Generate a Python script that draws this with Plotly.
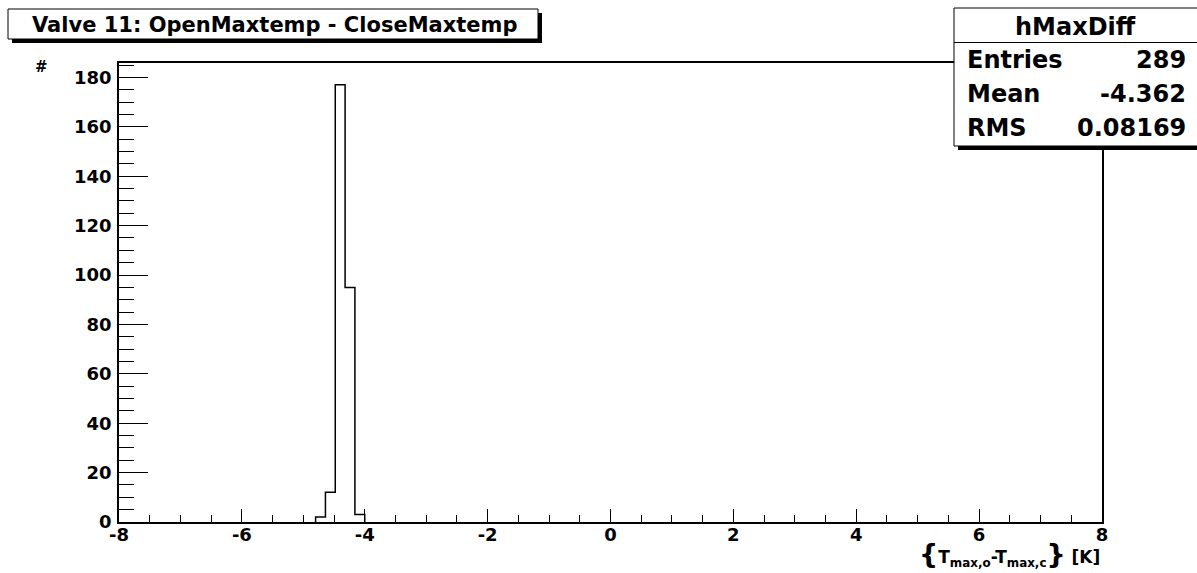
import plotly.graph_objects as go

# ---- data ----
bin_width = 0.16
bin_low = [-4.80, -4.64, -4.48, -4.32, -4.16]
counts = [2, 12, 177, 95, 3]
x_ticks = [-8, -6, -4, -2, 0, 2, 4, 6, 8]
y_ticks = [0, 20, 40, 60, 80, 100, 120, 140, 160, 180]
title_text = "Valve 11: OpenMaxtemp - CloseMaxtemp"
stats_name = "hMaxDiff"
stats_labels = ["Entries", "Mean", "RMS"]
stats_values = ["289", "-4.362", "0.08169"]

# ---- step outline of the histogram (ROOT-style, outline only) ----
hi_last = bin_low[-1] + bin_width
xs = [bin_low[0]] + bin_low + [hi_last]
ys = [0] + counts + [0]

W, H = 1197, 573
L, R, T, B = 119, 1102, 63, 522
FONT = "DejaVu Sans"


def px(x):
    return (x - L) / (R - L)


def py(y):
    return (B - y) / (B - T)


fig = go.Figure()
fig.add_trace(go.Scatter(x=xs, y=ys, mode="lines",
                         line=dict(color="black", width=1.5, shape="hv"),
                         hoverinfo="skip", showlegend=False))

fig.update_layout(
    width=W, height=H,
    margin=dict(l=L, r=W - R, t=T, b=H - B),
    paper_bgcolor="white", plot_bgcolor="white",
    font=dict(family=FONT, color="black"),
    xaxis=dict(range=[-8, 8], tickmode="array", tickvals=x_ticks,
               ticktext=[str(v) for v in x_ticks],
               ticks="inside", ticklen=13, tickwidth=1, tickcolor="black",
               minor=dict(dtick=0.5, tick0=-8, ticks="inside", ticklen=7,
                          tickwidth=1, tickcolor="black", showgrid=False),
               showline=True, linecolor="black", linewidth=1.5, mirror=True,
               showgrid=False, zeroline=False, ticklabelstandoff=-4,
               tickfont=dict(family=FONT, size=18, weight="bold", color="black")),
    yaxis=dict(range=[0, max(counts) * 1.05], tickmode="array", tickvals=y_ticks,
               ticktext=[str(v) for v in y_ticks],
               ticks="inside", ticklen=29, tickwidth=1, tickcolor="black",
               minor=dict(dtick=5, tick0=0, ticks="inside", ticklen=15,
                          tickwidth=1, tickcolor="black", showgrid=False),
               showline=True, linecolor="black", linewidth=1.5, mirror=True,
               showgrid=False, zeroline=False, ticklabelstandoff=2,
               tickfont=dict(family=FONT, size=18, weight="bold", color="black")),
)

shapes = []
# title box with shadow
shapes.append(dict(type="rect", xref="paper", yref="paper",
                   x0=px(12), x1=px(542), y0=py(13), y1=py(43),
                   fillcolor="black", line=dict(width=0), layer="above"))
shapes.append(dict(type="rect", xref="paper", yref="paper",
                   x0=px(8), x1=px(538), y0=py(9), y1=py(39),
                   fillcolor="white", line=dict(color="black", width=1), layer="above"))
# stats box with shadow
shapes.append(dict(type="rect", xref="paper", yref="paper",
                   x0=px(958), x1=px(1205), y0=py(12), y1=py(150),
                   fillcolor="black", line=dict(width=0), layer="above"))
shapes.append(dict(type="rect", xref="paper", yref="paper",
                   x0=px(954), x1=px(1201), y0=py(8), y1=py(146),
                   fillcolor="white", line=dict(color="black", width=1), layer="above"))
shapes.append(dict(type="line", xref="paper", yref="paper",
                   x0=px(954), x1=px(1201), y0=py(42.5), y1=py(42.5),
                   line=dict(color="black", width=1), layer="above"))
fig.update_layout(shapes=shapes)

ann = []
ann.append(dict(text=title_text, xref="paper", yref="paper",
                x=px(274), y=py(25), xanchor="center", yanchor="middle",
                showarrow=False, font=dict(family=FONT, size=21, weight="bold")))
ann.append(dict(text=stats_name, xref="paper", yref="paper",
                x=px(1075), y=py(27), xanchor="center", yanchor="middle",
                showarrow=False, font=dict(family=FONT, size=24, weight="bold")))
for i, (lab, val) in enumerate(zip(stats_labels, stats_values)):
    yy = 60 + i * 34
    ann.append(dict(text=lab, xref="paper", yref="paper",
                    x=px(965), y=py(yy), xanchor="left", yanchor="middle",
                    showarrow=False, font=dict(family=FONT, size=24, weight="bold")))
    ann.append(dict(text=val, xref="paper", yref="paper",
                    x=px(1188), y=py(yy), xanchor="right", yanchor="middle",
                    showarrow=False, font=dict(family=FONT, size=24, weight="bold")))
# axis titles
ann.append(dict(text="<span style='font-size:27px'>{</span>T<sub>max,o</sub>-T<sub>max,c</sub><span style='font-size:27px'>}</span> [K]",
                xref="paper", yref="paper", x=px(1102), y=py(554),
                xanchor="right", yanchor="middle", showarrow=False,
                font=dict(family=FONT, size=17, weight="bold")))
ann.append(dict(text="#", xref="paper", yref="paper",
                x=px(41), y=py(67), xanchor="center", yanchor="middle",
                showarrow=False, font=dict(family=FONT, size=15, weight="bold")))
fig.update_layout(annotations=ann)

fig.write_html("out.html", config={"displayModeBar": False},
               post_script="document.body.style.margin='0';")
